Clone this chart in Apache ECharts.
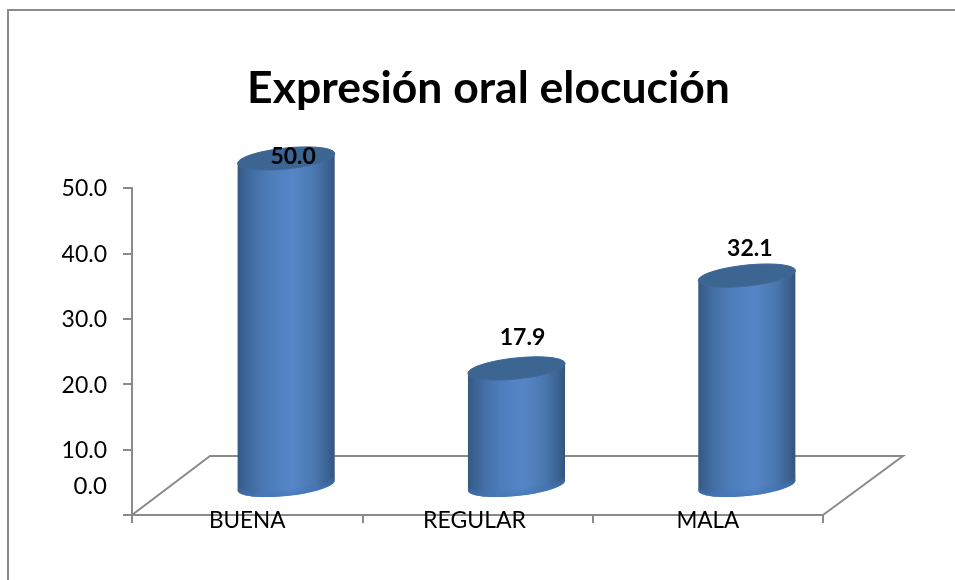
<!DOCTYPE html>
<html>
<head>
<meta charset="utf-8">
<style>html,body{margin:0;padding:0;background:#fff}#c{width:955px;height:580px}</style>
<script src="https://cdn.jsdelivr.net/npm/echarts@6/dist/echarts.min.js"></script>
</head>
<body>
<div id="c"></div>
<script>
const chartTitle = 'Expresión oral elocución';
const categories = ['BUENA', 'REGULAR', 'MALA'];
const values = [50.0, 17.9, 32.1];
const axisMin = 0, axisMax = 50, axisStep = 10;

// Look of the fake 3D box the original was drawn in
const DEPTH_X = 78, DEPTH_Y = 59;
const RX = 48.8, RY = 10.5, TILT = -6 * Math.PI / 180;
const LABEL_NUDGE = [[7, -2], [6, -31], [3, -27]];
const AXIS = '#8a8a8a';
const FONT = 'Lato, Carlito, "Open Sans", sans-serif';

function ell(cx, cy, t) {
  const a = RX * Math.cos(t), b = RY * Math.sin(t);
  return [cx + a * Math.cos(TILT) - b * Math.sin(TILT), cy + a * Math.sin(TILT) + b * Math.cos(TILT)];
}
const T0 = Math.atan2(-RY * Math.sin(TILT), RX * Math.cos(TILT));
const N = 48;

function arc(cx, cy, from, to) {
  const out = [];
  for (let k = 0; k <= N; k++) out.push(ell(cx, cy, from + (to - from) * k / N));
  return out;
}

function renderCylinder(params, api) {
  const i = api.value(0), v = api.value(1);
  const top0 = api.coord([i, v]), base0 = api.coord([i, 0]);
  const cx = base0[0] + DEPTH_X / 2;
  const ty = top0[1] - DEPTH_Y / 2, by = base0[1] - DEPTH_Y / 2;

  const children = [{
    type: 'polygon',
    shape: { points: arc(cx, by, T0, T0 + Math.PI).concat(arc(cx, ty, T0 + Math.PI, T0 + 2 * Math.PI)) },
    style: { fill: {
      type: 'linear', x: 0, y: 0, x2: 1, y2: 0,
      colorStops: [
        { offset: 0, color: '#36587f' }, { offset: 0.06, color: '#3a6291' },
        { offset: 0.16, color: '#436ea5' }, { offset: 0.32, color: '#4c7cb9' },
        { offset: 0.57, color: '#5686c8' }, { offset: 0.8, color: '#4977ae' },
        { offset: 0.93, color: '#3b6291' }, { offset: 1, color: '#35547b' }
      ] } }
  }];
  // soft bevel that follows the base curve
  for (let j = 0; j < 7; j++) {
    children.push({
      type: 'polygon',
      shape: { points: arc(cx, by - j, T0, T0 + Math.PI).concat(arc(cx, by - j - 1, T0 + Math.PI, T0)) },
      style: { fill: 'rgba(68,120,186,' + (0.7 * (1 - j / 7)).toFixed(3) + ')' }
    });
  }
  children.push({
    type: 'polygon', shape: { points: arc(cx, ty, 0, 2 * Math.PI) },
    style: { fill: '#3c6592', stroke: '#3f6a9b', lineWidth: 1 }
  });
  children.push({
    type: 'text', z2: 10,
    style: {
      text: v.toFixed(1),
      x: cx + LABEL_NUDGE[i][0], y: ty + LABEL_NUDGE[i][1],
      font: 'bold 23px ' + FONT, fill: '#000', align: 'center', verticalAlign: 'middle'
    }
  });
  return { type: 'group', children };
}

function renderFloor(params, api) {
  const cs = params.coordSys;
  const x0 = cs.x, x1 = cs.x + cs.width, y = api.coord([0, axisMin])[1];
  return { type: 'polyline',
    shape: { points: [[x0, y], [x0 + DEPTH_X, y - DEPTH_Y], [x1 + DEPTH_X + 2, y - DEPTH_Y], [x1, y]] },
    style: { fill: 'none', stroke: AXIS, lineWidth: 2 } };
}

const chart = echarts.init(document.getElementById('c'), null, { renderer: 'canvas' });
chart.setOption({
  animation: false,
  backgroundColor: '#fff',
  title: { text: chartTitle, left: 483.5, top: 61, textAlign: 'center',
    textStyle: { fontFamily: FONT, fontWeight: 'bold', fontSize: 44.5, color: '#000' } },
  graphic: [{ type: 'rect', shape: { x: 8, y: 10, width: 1000, height: 620 },
    style: { fill: 'none', stroke: AXIS, lineWidth: 2 }, silent: true }],
  grid: { left: 132, right: 132, top: 188, bottom: 65 },
  xAxis: { type: 'category', data: categories,
    axisLine: { lineStyle: { color: AXIS, width: 2 } },
    axisTick: { show: true, length: 8, lineStyle: { color: AXIS, width: 2 } },
    axisLabel: { margin: -6, fontFamily: FONT, fontSize: 22.5, color: '#000',
      formatter: c => c === 'REGULAR' ? '{s|' + c + '}' : c,
      rich: { s: { fontFamily: FONT, fontSize: 23, color: '#000', padding: [0, 6, 0, 0] } } } },
  yAxis: { type: 'value', min: axisMin, max: axisMax, interval: axisStep,
    axisLine: { show: true, lineStyle: { color: AXIS, width: 2 } },
    axisTick: { show: true, length: 9, lineStyle: { color: AXIS, width: 2 } },
    splitLine: { show: false },
    axisLabel: { margin: 25, padding: [2, 0, 0, 0], fontFamily: FONT, fontSize: 23, color: '#000',
      formatter: v => v === axisMin ? '{z|' + v.toFixed(1) + '}' : v.toFixed(1),
      rich: { z: { fontFamily: FONT, fontSize: 24, color: '#000', padding: [0, 0, 60, 0] } } } },
  series: [
    { type: 'custom', name: 'floor', renderItem: renderFloor, data: [[0, axisMin]], clip: false, z: 1, silent: true },
    { type: 'custom', name: chartTitle, renderItem: renderCylinder,
      data: categories.map((c, i) => [i, values[i]]), encode: { x: 0, y: 1 }, clip: false, z: 3 }
  ]
});
</script>
</body>
</html>
